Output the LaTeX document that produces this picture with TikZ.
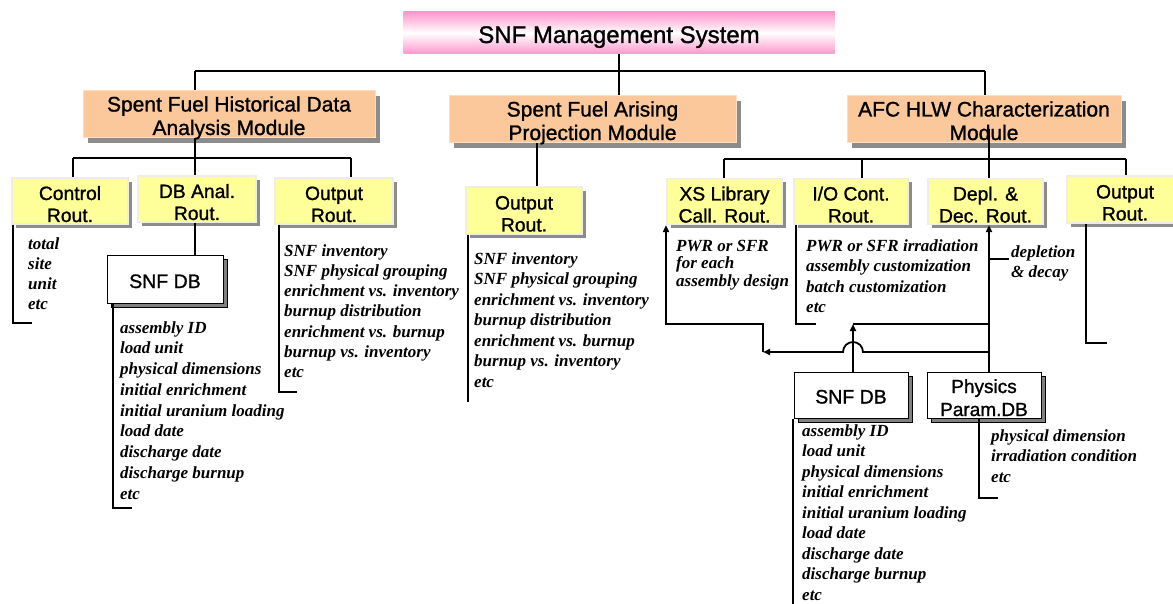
\documentclass[tikz,border=0pt]{standalone}
\usepackage{fontspec}
\setmainfont{Liberation Serif}
\setsansfont{Liberation Sans}
\newfontfamily\boxfont{Liberation Sans}[FakeBold=1.2]
\usetikzlibrary{shadows,arrows.meta,calc}
\definecolor{tpink}{RGB}{255,150,205}
\definecolor{modfill}{RGB}{250,200,155}
\definecolor{routfill}{RGB}{255,255,153}
\definecolor{shadowgray}{RGB}{140,140,140}
\definecolor{edgelight}{RGB}{238,238,225}
\begin{document}
\begin{tikzpicture}[x=1pt,y=-1pt,
  conn/.style={line width=1.8pt},
  arr/.style={line width=1.8pt,-{Triangle[length=7pt,width=6pt]}},
  boxshadow/.style={drop shadow={shadow xshift=5pt,shadow yshift=-5pt,fill=shadowgray,opacity=1}},
  titlebox/.style={top color=tpink,bottom color=tpink,middle color=white,
    minimum width=431pt,minimum height=42pt,inner sep=0pt,
    text height=20pt,text depth=0pt,
    font=\boxfont\fontsize{24}{26}\selectfont},
  modbox/.style={fill=modfill,draw=modfill!60!white,line width=1pt,boxshadow,
    minimum height=47pt,inner sep=0pt,align=center,
    text height=41pt,text depth=0pt,
    font=\boxfont\fontsize{21}{23.5}\selectfont},
  routbox/.style={fill=routfill,draw=edgelight,line width=1.2pt,
    drop shadow={shadow xshift=4pt,shadow yshift=-4pt,fill=shadowgray,opacity=1},
    minimum height=46pt,inner sep=0pt,align=center,
    text height=42pt,text depth=0pt,
    font=\boxfont\fontsize{19.3}{22}\selectfont},
  dbbox/.style={fill=white,draw=black,line width=1pt,
    drop shadow={shadow xshift=4pt,shadow yshift=-4pt,fill=gray,draw=black,opacity=1},
    minimum height=46pt,inner sep=0pt,align=center,
    text height=17pt,text depth=0pt,
    font=\boxfont\fontsize{19.5}{22}\selectfont},
  lst/.style={font=\bfseries\itshape\fontsize{17}{#1}\selectfont,align=left,
    anchor=north west,inner sep=0pt},
  lst/.default=20.5
]
\useasboundingbox (0,0) rectangle (1173,604);

% ---------- boxes ----------
\node[titlebox] (title) at (619,33) {SNF Management System};

\node[modbox,minimum width=292pt] (m1) at (229,114.5) {Spent Fuel Historical Data\\Analysis Module};
\node[modbox,minimum width=287pt] (m2) at (592.5,119.5) {Spent Fuel Arising\\Projection Module};
\node[modbox,minimum width=274pt] (m3) at (984,119.5) {AFC HLW Characterization\\Module};

\node[routbox,minimum width=116pt] (ctl) at (70,201) {Control\\Rout.};
\node[routbox,minimum width=118pt] (dba) at (197,199) {DB Anal.\\Rout.};
\node[routbox,minimum width=118pt] (out1) at (334,201) {Output\\Rout.};
\node[routbox,minimum width=116pt,minimum height=47pt] (out2) at (524,210.5) {Output\\Rout.};
\node[routbox,minimum width=115pt] (xs) at (724.5,201.5) {XS Library\\Call. Rout.};
\node[routbox,minimum width=114pt] (io) at (851,201.5) {I/O Cont.\\Rout.};
\node[routbox,minimum width=115pt] (depl) at (985.5,201.5) {Depl. \&\\Dec. Rout.};
\node[routbox,minimum width=116pt,minimum height=47pt] (out3) at (1125,199.5) {Output\\Rout.};

\node[dbbox,minimum width=116pt,minimum height=47pt] (sdb1) at (165,279.5) {SNF DB};
\node[dbbox,minimum width=114pt] (sdb2) at (851,395) {SNF DB};
\node[dbbox,minimum width=114pt,text height=42pt,font=\boxfont\fontsize{19}{23}\selectfont] (phys) at (984,395) {Physics\\Param.DB};

% ---------- lists ----------
\node[lst=20] (ctltxt) at (28,235) {\strut total\\site\\unit\\etc};
\node[lst=20.75] (sdb1txt) at (120,318.5) {\strut assembly ID\\load unit\\physical dimensions\\initial enrichment\\initial uranium loading\\load date\\discharge date\\discharge burnup\\etc};
\node[lst=20.2] (out1txt) at (284,241.9) {\strut SNF inventory\\SNF physical grouping\\enrichment vs. inventory\\burnup distribution\\enrichment vs. burnup\\burnup vs. inventory\\etc};
\node[lst=20.5] (out2txt) at (474,249.6) {\strut SNF inventory\\SNF physical grouping\\enrichment vs. inventory\\burnup distribution\\enrichment vs. burnup\\burnup vs. inventory\\etc};
\node[lst=17.5] (xstxt) at (676,238.7) {\strut PWR or SFR\\for each\\assembly design};
\node[lst=20.5] (iotxt) at (806,236.6) {\strut PWR or SFR irradiation\\assembly customization\\batch customization\\etc};
\node[lst=20] (depltxt) at (1011,243) {\strut depletion\\\& decay};
\node[lst=20.5] (sdb2txt) at (802,421.6) {\strut assembly ID\\load unit\\physical dimensions\\initial enrichment\\initial uranium loading\\load date\\discharge date\\discharge burnup\\etc};
\node[lst=20.5] (phystxt) at (991,426.6) {\strut physical dimension\\irradiation condition\\etc};

% ---------- top level connectors ----------
\coordinate (busL) at (195,71);
\coordinate (busR) at (985,71);
\draw[conn] (busL) -- (busR);
\draw[conn] (busL) -- (busL |- m1.north);
\draw[conn] (busR) -- (busR |- m3.north);
\draw[conn] (title.south) -- (title.south |- m2.north);

% module 1
\coordinate (b1) at (195,158);
\coordinate (b1a) at (73,158);
\coordinate (b1c) at (351,158);
\draw[conn] (b1 |- m1.south) -- (b1);
\draw[conn] (b1a) -- (b1c);
\draw[conn] (b1a) -- (b1a |- ctl.north);
\draw[conn] (b1) -- (b1 |- dba.north);
\draw[conn] (b1c) -- (b1c |- out1.north);
\draw[conn] (b1 |- dba.south) -- (b1 |- sdb1.north);

% module 2
\coordinate (c2) at (537,160);
\draw[conn] (c2 |- m2.south) -- (c2 |- out2.north);

% module 3
\coordinate (m3in) at (989,129);
\coordinate (b3) at (989,159);
\coordinate (b3a) at (724,159);
\coordinate (b3b) at (862,159);
\coordinate (b3d) at (1126,159);
\draw[conn] (m3in) -- (b3);
\draw[conn] (b3a) -- (b3d);
\draw[conn] (b3a) -- (b3a |- xs.north);
\draw[conn] (b3b) -- (b3b |- io.north);
\draw[conn] (b3) -- (b3 |- depl.north);
\draw[conn] (b3d) -- (b3d |- out3.north);

% ---------- brackets ----------
\coordinate (k1) at (13,323);
\draw[conn] (k1 |- ctl.south) -- (k1) -- ++(19,0);
\coordinate (k2) at (113,508);
\draw[conn] (k2 |- sdb1.south) -- (k2) -- ++(19,0);
\coordinate (k3) at (279,392);
\draw[conn] (k3 |- out1.south) -- (k3) -- ++(18,0);
\coordinate (k4) at (468,402);
\draw[conn] (k4 |- out2.south) -- (k4);
\coordinate (k5) at (796,324);
\draw[conn] (k5 |- io.south) -- (k5) -- ++(20,0);
\coordinate (k6) at (1086,343);
\draw[conn] (k6 |- out3.south) -- (k6) -- ++(21,0);
\coordinate (k7) at (793,610);
\draw[conn] (k7 |- sdb2.south) -- (k7);
\coordinate (k8) at (979,498);
\draw[conn] (k8 |- phys.south) -- (k8) -- ++(19,0);
\coordinate (t1) at (989,259);
\draw[conn] (t1) -- ++(20,0);

% ---------- arrows ----------
\coordinate (a1) at (989,324);
\coordinate (a2) at (989,352);
\coordinate (a3) at (853,324);
\coordinate (a4) at (853,352);
\coordinate (a5) at (763,352);
\coordinate (a6) at (763,324);
\coordinate (a7) at (666,324);
\draw[arr] (b3 |- phys.north) -- (b3 |- depl.south);
\draw[conn] (a1) -- (a3);
\draw[arr] (a3 |- sdb2.north) -- (a3);
\draw[arr] (a2) -- ($(a4)+(10,0)$) arc[start angle=0,end angle=180,radius=10pt] -- (a5);
\draw[arr] (a5) -- (a6) -- (a7) -- (a7 |- xs.south);
\end{tikzpicture}
\end{document}
